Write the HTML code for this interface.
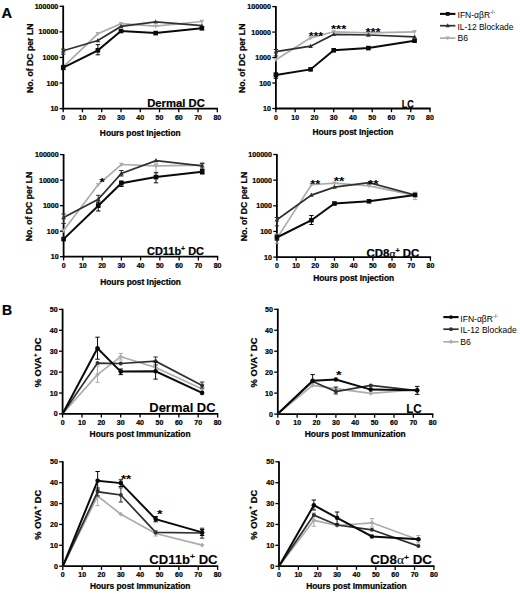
<!DOCTYPE html>
<html><head><meta charset="utf-8"><style>
html,body{margin:0;padding:0;background:#fff;}
svg{display:block;font-family:"Liberation Sans", sans-serif;}
text[font-weight="bold"]{stroke:#000;stroke-width:0.22px;}
</style></head><body>
<svg width="520" height="594" viewBox="0 0 520 594">
<rect width="520" height="594" fill="#fff"/>
<line x1="63.20" y1="5.70" x2="63.20" y2="109.50" stroke="#000" stroke-width="1.8" stroke-linecap="butt"/>
<line x1="62.30" y1="108.60" x2="218.00" y2="108.60" stroke="#000" stroke-width="1.8" stroke-linecap="butt"/>
<line x1="63.20" y1="108.60" x2="63.20" y2="112.30" stroke="#000" stroke-width="1.3" stroke-linecap="butt"/>
<text x="63.20" y="119.70" font-size="7" font-weight="bold" text-anchor="middle" fill="#000" >0</text>
<line x1="82.46" y1="108.60" x2="82.46" y2="112.30" stroke="#000" stroke-width="1.3" stroke-linecap="butt"/>
<text x="82.46" y="119.70" font-size="7" font-weight="bold" text-anchor="middle" fill="#000" >10</text>
<line x1="101.73" y1="108.60" x2="101.73" y2="112.30" stroke="#000" stroke-width="1.3" stroke-linecap="butt"/>
<text x="101.73" y="119.70" font-size="7" font-weight="bold" text-anchor="middle" fill="#000" >20</text>
<line x1="120.99" y1="108.60" x2="120.99" y2="112.30" stroke="#000" stroke-width="1.3" stroke-linecap="butt"/>
<text x="120.99" y="119.70" font-size="7" font-weight="bold" text-anchor="middle" fill="#000" >30</text>
<line x1="140.25" y1="108.60" x2="140.25" y2="112.30" stroke="#000" stroke-width="1.3" stroke-linecap="butt"/>
<text x="140.25" y="119.70" font-size="7" font-weight="bold" text-anchor="middle" fill="#000" >40</text>
<line x1="159.51" y1="108.60" x2="159.51" y2="112.30" stroke="#000" stroke-width="1.3" stroke-linecap="butt"/>
<text x="159.51" y="119.70" font-size="7" font-weight="bold" text-anchor="middle" fill="#000" >50</text>
<line x1="178.78" y1="108.60" x2="178.78" y2="112.30" stroke="#000" stroke-width="1.3" stroke-linecap="butt"/>
<text x="178.78" y="119.70" font-size="7" font-weight="bold" text-anchor="middle" fill="#000" >60</text>
<line x1="198.04" y1="108.60" x2="198.04" y2="112.30" stroke="#000" stroke-width="1.3" stroke-linecap="butt"/>
<text x="198.04" y="119.70" font-size="7" font-weight="bold" text-anchor="middle" fill="#000" >70</text>
<line x1="217.30" y1="108.60" x2="217.30" y2="112.30" stroke="#000" stroke-width="1.3" stroke-linecap="butt"/>
<text x="217.30" y="119.70" font-size="7" font-weight="bold" text-anchor="middle" fill="#000" >80</text>
<line x1="59.60" y1="6.30" x2="63.20" y2="6.30" stroke="#000" stroke-width="1.3" stroke-linecap="butt"/>
<text x="58.30" y="8.80" font-size="7.1" font-weight="bold" text-anchor="end" fill="#000" >100000</text>
<line x1="59.60" y1="31.88" x2="63.20" y2="31.88" stroke="#000" stroke-width="1.3" stroke-linecap="butt"/>
<text x="58.30" y="34.38" font-size="7.1" font-weight="bold" text-anchor="end" fill="#000" >10000</text>
<line x1="59.60" y1="57.45" x2="63.20" y2="57.45" stroke="#000" stroke-width="1.3" stroke-linecap="butt"/>
<text x="58.30" y="59.95" font-size="7.1" font-weight="bold" text-anchor="end" fill="#000" >1000</text>
<line x1="59.60" y1="83.02" x2="63.20" y2="83.02" stroke="#000" stroke-width="1.3" stroke-linecap="butt"/>
<text x="58.30" y="85.52" font-size="7.1" font-weight="bold" text-anchor="end" fill="#000" >100</text>
<line x1="59.60" y1="108.60" x2="63.20" y2="108.60" stroke="#000" stroke-width="1.3" stroke-linecap="butt"/>
<text x="58.30" y="111.10" font-size="7.1" font-weight="bold" text-anchor="end" fill="#000" >10</text>
<text x="140.25" y="135.80" font-size="8.4" font-weight="bold" text-anchor="middle" fill="#000" textLength="80.80" lengthAdjust="spacingAndGlyphs" >Hours post Injection</text>
<g transform="translate(33.00,57.45) rotate(-90)">
<text x="-0.8" y="0" font-size="8.7" font-weight="bold" text-anchor="middle" fill="#000">No. of DC per LN</text>
</g>
<polyline points="63.20,66.90 97.87,33.80 120.99,23.60 155.66,26.20 201.89,21.50" fill="none" stroke="#acacac" stroke-width="1.7" stroke-linejoin="miter" stroke-miterlimit="3"/>
<polygon points="63.20,69.40 65.50,65.20 60.90,65.20" fill="#acacac"/>
<polygon points="97.87,36.30 100.17,32.10 95.57,32.10" fill="#acacac"/>
<polygon points="120.99,26.10 123.29,21.90 118.69,21.90" fill="#acacac"/>
<polygon points="155.66,28.70 157.96,24.50 153.36,24.50" fill="#acacac"/>
<polygon points="201.89,24.00 204.19,19.80 199.59,19.80" fill="#acacac"/>
<line x1="63.20" y1="49.10" x2="63.20" y2="54.10" stroke="#303030" stroke-width="1.0" stroke-linecap="butt"/>
<line x1="61.00" y1="49.10" x2="65.40" y2="49.10" stroke="#303030" stroke-width="1.0" stroke-linecap="butt"/>
<line x1="61.00" y1="54.10" x2="65.40" y2="54.10" stroke="#303030" stroke-width="1.0" stroke-linecap="butt"/>
<polyline points="63.20,50.80 97.87,40.50 120.99,26.40 155.66,21.90 201.89,25.70" fill="none" stroke="#303030" stroke-width="1.7" stroke-linejoin="miter" stroke-miterlimit="3"/>
<polygon points="63.20,48.30 65.50,52.50 60.90,52.50" fill="#303030"/>
<polygon points="97.87,38.00 100.17,42.20 95.57,42.20" fill="#303030"/>
<polygon points="120.99,23.90 123.29,28.10 118.69,28.10" fill="#303030"/>
<polygon points="155.66,19.40 157.96,23.60 153.36,23.60" fill="#303030"/>
<polygon points="201.89,23.20 204.19,27.40 199.59,27.40" fill="#303030"/>
<line x1="97.87" y1="44.60" x2="97.87" y2="54.80" stroke="#0a0a0a" stroke-width="1.0" stroke-linecap="butt"/>
<line x1="95.67" y1="44.60" x2="100.07" y2="44.60" stroke="#0a0a0a" stroke-width="1.0" stroke-linecap="butt"/>
<line x1="95.67" y1="54.80" x2="100.07" y2="54.80" stroke="#0a0a0a" stroke-width="1.0" stroke-linecap="butt"/>
<line x1="63.20" y1="65.40" x2="63.20" y2="69.60" stroke="#0a0a0a" stroke-width="1.0" stroke-linecap="butt"/>
<line x1="61.00" y1="65.40" x2="65.40" y2="65.40" stroke="#0a0a0a" stroke-width="1.0" stroke-linecap="butt"/>
<line x1="61.00" y1="69.60" x2="65.40" y2="69.60" stroke="#0a0a0a" stroke-width="1.0" stroke-linecap="butt"/>
<polyline points="63.20,67.70 97.87,50.30 120.99,31.00 155.66,33.10 201.89,28.30" fill="none" stroke="#0a0a0a" stroke-width="2.0" stroke-linejoin="miter" stroke-miterlimit="3"/>
<rect x="60.90" y="65.40" width="4.60" height="4.60" fill="#0a0a0a"/>
<rect x="95.57" y="48.00" width="4.60" height="4.60" fill="#0a0a0a"/>
<rect x="118.69" y="28.70" width="4.60" height="4.60" fill="#0a0a0a"/>
<rect x="153.36" y="30.80" width="4.60" height="4.60" fill="#0a0a0a"/>
<rect x="199.59" y="26.00" width="4.60" height="4.60" fill="#0a0a0a"/>
<line x1="275.90" y1="6.00" x2="275.90" y2="109.40" stroke="#000" stroke-width="1.8" stroke-linecap="butt"/>
<line x1="275.00" y1="108.50" x2="430.70" y2="108.50" stroke="#000" stroke-width="1.8" stroke-linecap="butt"/>
<line x1="275.90" y1="108.50" x2="275.90" y2="112.20" stroke="#000" stroke-width="1.3" stroke-linecap="butt"/>
<text x="275.90" y="119.50" font-size="7" font-weight="bold" text-anchor="middle" fill="#000" >0</text>
<line x1="295.16" y1="108.50" x2="295.16" y2="112.20" stroke="#000" stroke-width="1.3" stroke-linecap="butt"/>
<text x="295.16" y="119.50" font-size="7" font-weight="bold" text-anchor="middle" fill="#000" >10</text>
<line x1="314.42" y1="108.50" x2="314.42" y2="112.20" stroke="#000" stroke-width="1.3" stroke-linecap="butt"/>
<text x="314.42" y="119.50" font-size="7" font-weight="bold" text-anchor="middle" fill="#000" >20</text>
<line x1="333.69" y1="108.50" x2="333.69" y2="112.20" stroke="#000" stroke-width="1.3" stroke-linecap="butt"/>
<text x="333.69" y="119.50" font-size="7" font-weight="bold" text-anchor="middle" fill="#000" >30</text>
<line x1="352.95" y1="108.50" x2="352.95" y2="112.20" stroke="#000" stroke-width="1.3" stroke-linecap="butt"/>
<text x="352.95" y="119.50" font-size="7" font-weight="bold" text-anchor="middle" fill="#000" >40</text>
<line x1="372.21" y1="108.50" x2="372.21" y2="112.20" stroke="#000" stroke-width="1.3" stroke-linecap="butt"/>
<text x="372.21" y="119.50" font-size="7" font-weight="bold" text-anchor="middle" fill="#000" >50</text>
<line x1="391.48" y1="108.50" x2="391.48" y2="112.20" stroke="#000" stroke-width="1.3" stroke-linecap="butt"/>
<text x="391.48" y="119.50" font-size="7" font-weight="bold" text-anchor="middle" fill="#000" >60</text>
<line x1="410.74" y1="108.50" x2="410.74" y2="112.20" stroke="#000" stroke-width="1.3" stroke-linecap="butt"/>
<text x="410.74" y="119.50" font-size="7" font-weight="bold" text-anchor="middle" fill="#000" >70</text>
<line x1="430.00" y1="108.50" x2="430.00" y2="112.20" stroke="#000" stroke-width="1.3" stroke-linecap="butt"/>
<text x="430.00" y="119.50" font-size="7" font-weight="bold" text-anchor="middle" fill="#000" >80</text>
<line x1="272.30" y1="6.60" x2="275.90" y2="6.60" stroke="#000" stroke-width="1.3" stroke-linecap="butt"/>
<text x="271.00" y="9.10" font-size="7.1" font-weight="bold" text-anchor="end" fill="#000" >100000</text>
<line x1="272.30" y1="32.08" x2="275.90" y2="32.08" stroke="#000" stroke-width="1.3" stroke-linecap="butt"/>
<text x="271.00" y="34.58" font-size="7.1" font-weight="bold" text-anchor="end" fill="#000" >10000</text>
<line x1="272.30" y1="57.55" x2="275.90" y2="57.55" stroke="#000" stroke-width="1.3" stroke-linecap="butt"/>
<text x="271.00" y="60.05" font-size="7.1" font-weight="bold" text-anchor="end" fill="#000" >1000</text>
<line x1="272.30" y1="83.03" x2="275.90" y2="83.03" stroke="#000" stroke-width="1.3" stroke-linecap="butt"/>
<text x="271.00" y="85.53" font-size="7.1" font-weight="bold" text-anchor="end" fill="#000" >100</text>
<line x1="272.30" y1="108.50" x2="275.90" y2="108.50" stroke="#000" stroke-width="1.3" stroke-linecap="butt"/>
<text x="271.00" y="111.00" font-size="7.1" font-weight="bold" text-anchor="end" fill="#000" >10</text>
<text x="352.95" y="134.70" font-size="8.4" font-weight="bold" text-anchor="middle" fill="#000" textLength="81.00" lengthAdjust="spacingAndGlyphs" >Hours post Injection</text>
<g transform="translate(244.60,57.55) rotate(-90)">
<text x="-0.8" y="0" font-size="8.7" font-weight="bold" text-anchor="middle" fill="#000">No. of DC per LN</text>
</g>
<polyline points="275.90,59.70 310.57,37.90 333.69,31.80 368.36,32.80 414.59,31.80" fill="none" stroke="#acacac" stroke-width="1.7" stroke-linejoin="miter" stroke-miterlimit="3"/>
<polygon points="275.90,62.20 278.20,58.00 273.60,58.00" fill="#acacac"/>
<polygon points="310.57,40.40 312.87,36.20 308.27,36.20" fill="#acacac"/>
<polygon points="333.69,34.30 335.99,30.10 331.39,30.10" fill="#acacac"/>
<polygon points="368.36,35.30 370.66,31.10 366.06,31.10" fill="#acacac"/>
<polygon points="414.59,34.30 416.89,30.10 412.29,30.10" fill="#acacac"/>
<line x1="275.90" y1="49.50" x2="275.90" y2="55.90" stroke="#303030" stroke-width="1.0" stroke-linecap="butt"/>
<line x1="273.70" y1="49.50" x2="278.10" y2="49.50" stroke="#303030" stroke-width="1.0" stroke-linecap="butt"/>
<line x1="273.70" y1="55.90" x2="278.10" y2="55.90" stroke="#303030" stroke-width="1.0" stroke-linecap="butt"/>
<polyline points="275.90,51.70 310.57,46.20 333.69,34.40 368.36,35.00 414.59,36.90" fill="none" stroke="#303030" stroke-width="1.7" stroke-linejoin="miter" stroke-miterlimit="3"/>
<polygon points="275.90,49.20 278.20,53.40 273.60,53.40" fill="#303030"/>
<polygon points="310.57,43.70 312.87,47.90 308.27,47.90" fill="#303030"/>
<polygon points="333.69,31.90 335.99,36.10 331.39,36.10" fill="#303030"/>
<polygon points="368.36,32.50 370.66,36.70 366.06,36.70" fill="#303030"/>
<polygon points="414.59,34.40 416.89,38.60 412.29,38.60" fill="#303030"/>
<line x1="275.90" y1="72.80" x2="275.90" y2="78.30" stroke="#0a0a0a" stroke-width="1.0" stroke-linecap="butt"/>
<line x1="273.70" y1="72.80" x2="278.10" y2="72.80" stroke="#0a0a0a" stroke-width="1.0" stroke-linecap="butt"/>
<line x1="273.70" y1="78.30" x2="278.10" y2="78.30" stroke="#0a0a0a" stroke-width="1.0" stroke-linecap="butt"/>
<polyline points="275.90,75.10 310.57,69.40 333.69,50.30 368.36,48.10 414.59,40.70" fill="none" stroke="#0a0a0a" stroke-width="2.0" stroke-linejoin="miter" stroke-miterlimit="3"/>
<rect x="273.60" y="72.80" width="4.60" height="4.60" fill="#0a0a0a"/>
<rect x="308.27" y="67.10" width="4.60" height="4.60" fill="#0a0a0a"/>
<rect x="331.39" y="48.00" width="4.60" height="4.60" fill="#0a0a0a"/>
<rect x="366.06" y="45.80" width="4.60" height="4.60" fill="#0a0a0a"/>
<rect x="412.29" y="38.40" width="4.60" height="4.60" fill="#0a0a0a"/>
<line x1="63.60" y1="154.00" x2="63.60" y2="257.60" stroke="#000" stroke-width="1.8" stroke-linecap="butt"/>
<line x1="62.70" y1="256.70" x2="218.30" y2="256.70" stroke="#000" stroke-width="1.8" stroke-linecap="butt"/>
<line x1="63.60" y1="256.70" x2="63.60" y2="260.40" stroke="#000" stroke-width="1.3" stroke-linecap="butt"/>
<text x="63.60" y="268.10" font-size="7" font-weight="bold" text-anchor="middle" fill="#000" >0</text>
<line x1="82.85" y1="256.70" x2="82.85" y2="260.40" stroke="#000" stroke-width="1.3" stroke-linecap="butt"/>
<text x="82.85" y="268.10" font-size="7" font-weight="bold" text-anchor="middle" fill="#000" >10</text>
<line x1="102.10" y1="256.70" x2="102.10" y2="260.40" stroke="#000" stroke-width="1.3" stroke-linecap="butt"/>
<text x="102.10" y="268.10" font-size="7" font-weight="bold" text-anchor="middle" fill="#000" >20</text>
<line x1="121.35" y1="256.70" x2="121.35" y2="260.40" stroke="#000" stroke-width="1.3" stroke-linecap="butt"/>
<text x="121.35" y="268.10" font-size="7" font-weight="bold" text-anchor="middle" fill="#000" >30</text>
<line x1="140.60" y1="256.70" x2="140.60" y2="260.40" stroke="#000" stroke-width="1.3" stroke-linecap="butt"/>
<text x="140.60" y="268.10" font-size="7" font-weight="bold" text-anchor="middle" fill="#000" >40</text>
<line x1="159.85" y1="256.70" x2="159.85" y2="260.40" stroke="#000" stroke-width="1.3" stroke-linecap="butt"/>
<text x="159.85" y="268.10" font-size="7" font-weight="bold" text-anchor="middle" fill="#000" >50</text>
<line x1="179.10" y1="256.70" x2="179.10" y2="260.40" stroke="#000" stroke-width="1.3" stroke-linecap="butt"/>
<text x="179.10" y="268.10" font-size="7" font-weight="bold" text-anchor="middle" fill="#000" >60</text>
<line x1="198.35" y1="256.70" x2="198.35" y2="260.40" stroke="#000" stroke-width="1.3" stroke-linecap="butt"/>
<text x="198.35" y="268.10" font-size="7" font-weight="bold" text-anchor="middle" fill="#000" >70</text>
<line x1="217.60" y1="256.70" x2="217.60" y2="260.40" stroke="#000" stroke-width="1.3" stroke-linecap="butt"/>
<text x="217.60" y="268.10" font-size="7" font-weight="bold" text-anchor="middle" fill="#000" >80</text>
<line x1="60.00" y1="154.60" x2="63.60" y2="154.60" stroke="#000" stroke-width="1.3" stroke-linecap="butt"/>
<text x="58.70" y="157.10" font-size="7.1" font-weight="bold" text-anchor="end" fill="#000" >100000</text>
<line x1="60.00" y1="180.12" x2="63.60" y2="180.12" stroke="#000" stroke-width="1.3" stroke-linecap="butt"/>
<text x="58.70" y="182.62" font-size="7.1" font-weight="bold" text-anchor="end" fill="#000" >10000</text>
<line x1="60.00" y1="205.65" x2="63.60" y2="205.65" stroke="#000" stroke-width="1.3" stroke-linecap="butt"/>
<text x="58.70" y="208.15" font-size="7.1" font-weight="bold" text-anchor="end" fill="#000" >1000</text>
<line x1="60.00" y1="231.17" x2="63.60" y2="231.17" stroke="#000" stroke-width="1.3" stroke-linecap="butt"/>
<text x="58.70" y="233.67" font-size="7.1" font-weight="bold" text-anchor="end" fill="#000" >100</text>
<line x1="60.00" y1="256.70" x2="63.60" y2="256.70" stroke="#000" stroke-width="1.3" stroke-linecap="butt"/>
<text x="58.70" y="259.20" font-size="7.1" font-weight="bold" text-anchor="end" fill="#000" >10</text>
<text x="140.60" y="284.60" font-size="8.4" font-weight="bold" text-anchor="middle" fill="#000" textLength="80.80" lengthAdjust="spacingAndGlyphs" >Hours post Injection</text>
<g transform="translate(31.70,205.65) rotate(-90)">
<text x="-0.8" y="0" font-size="8.7" font-weight="bold" text-anchor="middle" fill="#000">No. of DC per LN</text>
</g>
<line x1="156.00" y1="163.80" x2="156.00" y2="172.20" stroke="#acacac" stroke-width="1.0" stroke-linecap="butt"/>
<line x1="153.80" y1="163.80" x2="158.20" y2="163.80" stroke="#acacac" stroke-width="1.0" stroke-linecap="butt"/>
<line x1="153.80" y1="172.20" x2="158.20" y2="172.20" stroke="#acacac" stroke-width="1.0" stroke-linecap="butt"/>
<line x1="202.20" y1="162.50" x2="202.20" y2="168.00" stroke="#acacac" stroke-width="1.0" stroke-linecap="butt"/>
<line x1="200.00" y1="162.50" x2="204.40" y2="162.50" stroke="#acacac" stroke-width="1.0" stroke-linecap="butt"/>
<line x1="200.00" y1="168.00" x2="204.40" y2="168.00" stroke="#acacac" stroke-width="1.0" stroke-linecap="butt"/>
<polyline points="63.60,230.50 98.25,184.60 121.35,164.50 156.00,165.90 202.20,165.20" fill="none" stroke="#acacac" stroke-width="1.7" stroke-linejoin="miter" stroke-miterlimit="3"/>
<polygon points="63.60,233.00 65.90,228.80 61.30,228.80" fill="#acacac"/>
<polygon points="98.25,187.10 100.55,182.90 95.95,182.90" fill="#acacac"/>
<polygon points="121.35,167.00 123.65,162.80 119.05,162.80" fill="#acacac"/>
<polygon points="156.00,168.40 158.30,164.20 153.70,164.20" fill="#acacac"/>
<polygon points="202.20,167.70 204.50,163.50 199.90,163.50" fill="#acacac"/>
<line x1="63.60" y1="214.00" x2="63.60" y2="223.50" stroke="#303030" stroke-width="1.0" stroke-linecap="butt"/>
<line x1="61.40" y1="214.00" x2="65.80" y2="214.00" stroke="#303030" stroke-width="1.0" stroke-linecap="butt"/>
<line x1="61.40" y1="223.50" x2="65.80" y2="223.50" stroke="#303030" stroke-width="1.0" stroke-linecap="butt"/>
<line x1="98.25" y1="195.30" x2="98.25" y2="203.00" stroke="#303030" stroke-width="1.0" stroke-linecap="butt"/>
<line x1="96.05" y1="195.30" x2="100.45" y2="195.30" stroke="#303030" stroke-width="1.0" stroke-linecap="butt"/>
<line x1="96.05" y1="203.00" x2="100.45" y2="203.00" stroke="#303030" stroke-width="1.0" stroke-linecap="butt"/>
<line x1="121.35" y1="170.50" x2="121.35" y2="176.00" stroke="#303030" stroke-width="1.0" stroke-linecap="butt"/>
<line x1="119.15" y1="170.50" x2="123.55" y2="170.50" stroke="#303030" stroke-width="1.0" stroke-linecap="butt"/>
<line x1="119.15" y1="176.00" x2="123.55" y2="176.00" stroke="#303030" stroke-width="1.0" stroke-linecap="butt"/>
<line x1="202.20" y1="163.50" x2="202.20" y2="169.00" stroke="#303030" stroke-width="1.0" stroke-linecap="butt"/>
<line x1="200.00" y1="163.50" x2="204.40" y2="163.50" stroke="#303030" stroke-width="1.0" stroke-linecap="butt"/>
<line x1="200.00" y1="169.00" x2="204.40" y2="169.00" stroke="#303030" stroke-width="1.0" stroke-linecap="butt"/>
<polyline points="63.60,217.50 98.25,199.30 121.35,173.50 156.00,160.60 202.20,165.90" fill="none" stroke="#303030" stroke-width="1.7" stroke-linejoin="miter" stroke-miterlimit="3"/>
<polygon points="63.60,215.00 65.90,219.20 61.30,219.20" fill="#303030"/>
<polygon points="98.25,196.80 100.55,201.00 95.95,201.00" fill="#303030"/>
<polygon points="121.35,171.00 123.65,175.20 119.05,175.20" fill="#303030"/>
<polygon points="156.00,158.10 158.30,162.30 153.70,162.30" fill="#303030"/>
<polygon points="202.20,163.40 204.50,167.60 199.90,167.60" fill="#303030"/>
<line x1="98.25" y1="202.00" x2="98.25" y2="211.00" stroke="#0a0a0a" stroke-width="1.0" stroke-linecap="butt"/>
<line x1="96.05" y1="202.00" x2="100.45" y2="202.00" stroke="#0a0a0a" stroke-width="1.0" stroke-linecap="butt"/>
<line x1="96.05" y1="211.00" x2="100.45" y2="211.00" stroke="#0a0a0a" stroke-width="1.0" stroke-linecap="butt"/>
<line x1="121.35" y1="181.00" x2="121.35" y2="186.50" stroke="#0a0a0a" stroke-width="1.0" stroke-linecap="butt"/>
<line x1="119.15" y1="181.00" x2="123.55" y2="181.00" stroke="#0a0a0a" stroke-width="1.0" stroke-linecap="butt"/>
<line x1="119.15" y1="186.50" x2="123.55" y2="186.50" stroke="#0a0a0a" stroke-width="1.0" stroke-linecap="butt"/>
<line x1="156.00" y1="172.80" x2="156.00" y2="182.80" stroke="#0a0a0a" stroke-width="1.0" stroke-linecap="butt"/>
<line x1="153.80" y1="172.80" x2="158.20" y2="172.80" stroke="#0a0a0a" stroke-width="1.0" stroke-linecap="butt"/>
<line x1="153.80" y1="182.80" x2="158.20" y2="182.80" stroke="#0a0a0a" stroke-width="1.0" stroke-linecap="butt"/>
<line x1="202.20" y1="169.50" x2="202.20" y2="174.00" stroke="#0a0a0a" stroke-width="1.0" stroke-linecap="butt"/>
<line x1="200.00" y1="169.50" x2="204.40" y2="169.50" stroke="#0a0a0a" stroke-width="1.0" stroke-linecap="butt"/>
<line x1="200.00" y1="174.00" x2="204.40" y2="174.00" stroke="#0a0a0a" stroke-width="1.0" stroke-linecap="butt"/>
<polyline points="63.60,239.10 98.25,205.70 121.35,183.20 156.00,177.10 202.20,171.80" fill="none" stroke="#0a0a0a" stroke-width="2.0" stroke-linejoin="miter" stroke-miterlimit="3"/>
<rect x="61.30" y="236.80" width="4.60" height="4.60" fill="#0a0a0a"/>
<rect x="95.95" y="203.40" width="4.60" height="4.60" fill="#0a0a0a"/>
<rect x="119.05" y="180.90" width="4.60" height="4.60" fill="#0a0a0a"/>
<rect x="153.70" y="174.80" width="4.60" height="4.60" fill="#0a0a0a"/>
<rect x="199.90" y="169.50" width="4.60" height="4.60" fill="#0a0a0a"/>
<line x1="276.90" y1="153.90" x2="276.90" y2="258.00" stroke="#000" stroke-width="1.8" stroke-linecap="butt"/>
<line x1="276.00" y1="257.10" x2="431.10" y2="257.10" stroke="#000" stroke-width="1.8" stroke-linecap="butt"/>
<line x1="276.90" y1="257.10" x2="276.90" y2="260.80" stroke="#000" stroke-width="1.3" stroke-linecap="butt"/>
<text x="276.90" y="268.10" font-size="7" font-weight="bold" text-anchor="middle" fill="#000" >0</text>
<line x1="296.09" y1="257.10" x2="296.09" y2="260.80" stroke="#000" stroke-width="1.3" stroke-linecap="butt"/>
<text x="296.09" y="268.10" font-size="7" font-weight="bold" text-anchor="middle" fill="#000" >10</text>
<line x1="315.27" y1="257.10" x2="315.27" y2="260.80" stroke="#000" stroke-width="1.3" stroke-linecap="butt"/>
<text x="315.27" y="268.10" font-size="7" font-weight="bold" text-anchor="middle" fill="#000" >20</text>
<line x1="334.46" y1="257.10" x2="334.46" y2="260.80" stroke="#000" stroke-width="1.3" stroke-linecap="butt"/>
<text x="334.46" y="268.10" font-size="7" font-weight="bold" text-anchor="middle" fill="#000" >30</text>
<line x1="353.65" y1="257.10" x2="353.65" y2="260.80" stroke="#000" stroke-width="1.3" stroke-linecap="butt"/>
<text x="353.65" y="268.10" font-size="7" font-weight="bold" text-anchor="middle" fill="#000" >40</text>
<line x1="372.84" y1="257.10" x2="372.84" y2="260.80" stroke="#000" stroke-width="1.3" stroke-linecap="butt"/>
<text x="372.84" y="268.10" font-size="7" font-weight="bold" text-anchor="middle" fill="#000" >50</text>
<line x1="392.02" y1="257.10" x2="392.02" y2="260.80" stroke="#000" stroke-width="1.3" stroke-linecap="butt"/>
<text x="392.02" y="268.10" font-size="7" font-weight="bold" text-anchor="middle" fill="#000" >60</text>
<line x1="411.21" y1="257.10" x2="411.21" y2="260.80" stroke="#000" stroke-width="1.3" stroke-linecap="butt"/>
<text x="411.21" y="268.10" font-size="7" font-weight="bold" text-anchor="middle" fill="#000" >70</text>
<line x1="430.40" y1="257.10" x2="430.40" y2="260.80" stroke="#000" stroke-width="1.3" stroke-linecap="butt"/>
<text x="430.40" y="268.10" font-size="7" font-weight="bold" text-anchor="middle" fill="#000" >80</text>
<line x1="273.30" y1="154.50" x2="276.90" y2="154.50" stroke="#000" stroke-width="1.3" stroke-linecap="butt"/>
<text x="272.00" y="157.00" font-size="7.1" font-weight="bold" text-anchor="end" fill="#000" >100000</text>
<line x1="273.30" y1="180.15" x2="276.90" y2="180.15" stroke="#000" stroke-width="1.3" stroke-linecap="butt"/>
<text x="272.00" y="182.65" font-size="7.1" font-weight="bold" text-anchor="end" fill="#000" >10000</text>
<line x1="273.30" y1="205.80" x2="276.90" y2="205.80" stroke="#000" stroke-width="1.3" stroke-linecap="butt"/>
<text x="272.00" y="208.30" font-size="7.1" font-weight="bold" text-anchor="end" fill="#000" >1000</text>
<line x1="273.30" y1="231.45" x2="276.90" y2="231.45" stroke="#000" stroke-width="1.3" stroke-linecap="butt"/>
<text x="272.00" y="233.95" font-size="7.1" font-weight="bold" text-anchor="end" fill="#000" >100</text>
<line x1="273.30" y1="257.10" x2="276.90" y2="257.10" stroke="#000" stroke-width="1.3" stroke-linecap="butt"/>
<text x="272.00" y="259.60" font-size="7.1" font-weight="bold" text-anchor="end" fill="#000" >10</text>
<text x="353.65" y="281.40" font-size="8.4" font-weight="bold" text-anchor="middle" fill="#000" textLength="81.00" lengthAdjust="spacingAndGlyphs" >Hours post Injection</text>
<g transform="translate(247.30,205.80) rotate(-90)">
<text x="-0.8" y="0" font-size="8.7" font-weight="bold" text-anchor="middle" fill="#000">No. of DC per LN</text>
</g>
<line x1="415.05" y1="192.20" x2="415.05" y2="199.60" stroke="#acacac" stroke-width="1.0" stroke-linecap="butt"/>
<line x1="412.85" y1="192.20" x2="417.25" y2="192.20" stroke="#acacac" stroke-width="1.0" stroke-linecap="butt"/>
<line x1="412.85" y1="199.60" x2="417.25" y2="199.60" stroke="#acacac" stroke-width="1.0" stroke-linecap="butt"/>
<line x1="276.90" y1="234.00" x2="276.90" y2="243.30" stroke="#acacac" stroke-width="1.0" stroke-linecap="butt"/>
<line x1="274.70" y1="234.00" x2="279.10" y2="234.00" stroke="#acacac" stroke-width="1.0" stroke-linecap="butt"/>
<line x1="274.70" y1="243.30" x2="279.10" y2="243.30" stroke="#acacac" stroke-width="1.0" stroke-linecap="butt"/>
<polyline points="276.90,238.40 311.44,184.70 334.46,183.20 369.00,185.90 415.05,195.40" fill="none" stroke="#acacac" stroke-width="1.7" stroke-linejoin="miter" stroke-miterlimit="3"/>
<polygon points="276.90,240.90 279.20,236.70 274.60,236.70" fill="#acacac"/>
<polygon points="311.44,187.20 313.74,183.00 309.14,183.00" fill="#acacac"/>
<polygon points="334.46,185.70 336.76,181.50 332.16,181.50" fill="#acacac"/>
<polygon points="369.00,188.40 371.30,184.20 366.70,184.20" fill="#acacac"/>
<polygon points="415.05,197.90 417.35,193.70 412.75,193.70" fill="#acacac"/>
<line x1="276.90" y1="217.50" x2="276.90" y2="225.80" stroke="#303030" stroke-width="1.0" stroke-linecap="butt"/>
<line x1="274.70" y1="217.50" x2="279.10" y2="217.50" stroke="#303030" stroke-width="1.0" stroke-linecap="butt"/>
<line x1="274.70" y1="225.80" x2="279.10" y2="225.80" stroke="#303030" stroke-width="1.0" stroke-linecap="butt"/>
<polyline points="276.90,219.80 311.44,195.10 334.46,187.10 369.00,182.70 415.05,195.00" fill="none" stroke="#303030" stroke-width="1.7" stroke-linejoin="miter" stroke-miterlimit="3"/>
<polygon points="276.90,217.30 279.20,221.50 274.60,221.50" fill="#303030"/>
<polygon points="311.44,192.60 313.74,196.80 309.14,196.80" fill="#303030"/>
<polygon points="334.46,184.60 336.76,188.80 332.16,188.80" fill="#303030"/>
<polygon points="369.00,180.20 371.30,184.40 366.70,184.40" fill="#303030"/>
<polygon points="415.05,192.50 417.35,196.70 412.75,196.70" fill="#303030"/>
<line x1="311.44" y1="215.50" x2="311.44" y2="224.50" stroke="#0a0a0a" stroke-width="1.0" stroke-linecap="butt"/>
<line x1="309.24" y1="215.50" x2="313.64" y2="215.50" stroke="#0a0a0a" stroke-width="1.0" stroke-linecap="butt"/>
<line x1="309.24" y1="224.50" x2="313.64" y2="224.50" stroke="#0a0a0a" stroke-width="1.0" stroke-linecap="butt"/>
<line x1="276.90" y1="235.00" x2="276.90" y2="240.20" stroke="#0a0a0a" stroke-width="1.0" stroke-linecap="butt"/>
<line x1="274.70" y1="235.00" x2="279.10" y2="235.00" stroke="#0a0a0a" stroke-width="1.0" stroke-linecap="butt"/>
<line x1="274.70" y1="240.20" x2="279.10" y2="240.20" stroke="#0a0a0a" stroke-width="1.0" stroke-linecap="butt"/>
<polyline points="276.90,237.50 311.44,220.20 334.46,203.50 369.00,201.30 415.05,195.00" fill="none" stroke="#0a0a0a" stroke-width="2.0" stroke-linejoin="miter" stroke-miterlimit="3"/>
<rect x="274.60" y="235.20" width="4.60" height="4.60" fill="#0a0a0a"/>
<rect x="309.14" y="217.90" width="4.60" height="4.60" fill="#0a0a0a"/>
<rect x="332.16" y="201.20" width="4.60" height="4.60" fill="#0a0a0a"/>
<rect x="366.70" y="199.00" width="4.60" height="4.60" fill="#0a0a0a"/>
<rect x="412.75" y="192.70" width="4.60" height="4.60" fill="#0a0a0a"/>
<line x1="62.60" y1="308.80" x2="62.60" y2="414.80" stroke="#000" stroke-width="1.8" stroke-linecap="butt"/>
<line x1="61.70" y1="413.90" x2="218.30" y2="413.90" stroke="#000" stroke-width="1.8" stroke-linecap="butt"/>
<line x1="62.60" y1="413.90" x2="62.60" y2="417.60" stroke="#000" stroke-width="1.3" stroke-linecap="butt"/>
<text x="62.60" y="425.00" font-size="7" font-weight="bold" text-anchor="middle" fill="#000" >0</text>
<line x1="81.97" y1="413.90" x2="81.97" y2="417.60" stroke="#000" stroke-width="1.3" stroke-linecap="butt"/>
<text x="81.97" y="425.00" font-size="7" font-weight="bold" text-anchor="middle" fill="#000" >10</text>
<line x1="101.35" y1="413.90" x2="101.35" y2="417.60" stroke="#000" stroke-width="1.3" stroke-linecap="butt"/>
<text x="101.35" y="425.00" font-size="7" font-weight="bold" text-anchor="middle" fill="#000" >20</text>
<line x1="120.72" y1="413.90" x2="120.72" y2="417.60" stroke="#000" stroke-width="1.3" stroke-linecap="butt"/>
<text x="120.72" y="425.00" font-size="7" font-weight="bold" text-anchor="middle" fill="#000" >30</text>
<line x1="140.10" y1="413.90" x2="140.10" y2="417.60" stroke="#000" stroke-width="1.3" stroke-linecap="butt"/>
<text x="140.10" y="425.00" font-size="7" font-weight="bold" text-anchor="middle" fill="#000" >40</text>
<line x1="159.47" y1="413.90" x2="159.47" y2="417.60" stroke="#000" stroke-width="1.3" stroke-linecap="butt"/>
<text x="159.47" y="425.00" font-size="7" font-weight="bold" text-anchor="middle" fill="#000" >50</text>
<line x1="178.85" y1="413.90" x2="178.85" y2="417.60" stroke="#000" stroke-width="1.3" stroke-linecap="butt"/>
<text x="178.85" y="425.00" font-size="7" font-weight="bold" text-anchor="middle" fill="#000" >60</text>
<line x1="198.22" y1="413.90" x2="198.22" y2="417.60" stroke="#000" stroke-width="1.3" stroke-linecap="butt"/>
<text x="198.22" y="425.00" font-size="7" font-weight="bold" text-anchor="middle" fill="#000" >70</text>
<line x1="217.60" y1="413.90" x2="217.60" y2="417.60" stroke="#000" stroke-width="1.3" stroke-linecap="butt"/>
<text x="217.60" y="425.00" font-size="7" font-weight="bold" text-anchor="middle" fill="#000" >80</text>
<line x1="59.00" y1="309.40" x2="62.60" y2="309.40" stroke="#000" stroke-width="1.3" stroke-linecap="butt"/>
<text x="57.70" y="311.90" font-size="7.1" font-weight="bold" text-anchor="end" fill="#000" >50</text>
<line x1="59.00" y1="330.30" x2="62.60" y2="330.30" stroke="#000" stroke-width="1.3" stroke-linecap="butt"/>
<text x="57.70" y="332.80" font-size="7.1" font-weight="bold" text-anchor="end" fill="#000" >40</text>
<line x1="59.00" y1="351.20" x2="62.60" y2="351.20" stroke="#000" stroke-width="1.3" stroke-linecap="butt"/>
<text x="57.70" y="353.70" font-size="7.1" font-weight="bold" text-anchor="end" fill="#000" >30</text>
<line x1="59.00" y1="372.10" x2="62.60" y2="372.10" stroke="#000" stroke-width="1.3" stroke-linecap="butt"/>
<text x="57.70" y="374.60" font-size="7.1" font-weight="bold" text-anchor="end" fill="#000" >20</text>
<line x1="59.00" y1="393.00" x2="62.60" y2="393.00" stroke="#000" stroke-width="1.3" stroke-linecap="butt"/>
<text x="57.70" y="395.50" font-size="7.1" font-weight="bold" text-anchor="end" fill="#000" >10</text>
<line x1="59.00" y1="413.90" x2="62.60" y2="413.90" stroke="#000" stroke-width="1.3" stroke-linecap="butt"/>
<text x="57.70" y="416.40" font-size="7.1" font-weight="bold" text-anchor="end" fill="#000" >0</text>
<text x="140.10" y="437.10" font-size="8.4" font-weight="bold" text-anchor="middle" fill="#000" textLength="101.00" lengthAdjust="spacingAndGlyphs" >Hours post Immunization</text>
<g transform="translate(41.20,361.65) rotate(-90)">
<text x="-0.8" y="0" font-size="9.3" font-weight="bold" text-anchor="middle" fill="#000">% OVA<tspan font-size="6" dy="-4.6">+</tspan><tspan dy="4.6"> DC</tspan></text>
</g>
<line x1="97.47" y1="366.00" x2="97.47" y2="382.30" stroke="#acacac" stroke-width="1.0" stroke-linecap="butt"/>
<line x1="95.27" y1="366.00" x2="99.67" y2="366.00" stroke="#acacac" stroke-width="1.0" stroke-linecap="butt"/>
<line x1="95.27" y1="382.30" x2="99.67" y2="382.30" stroke="#acacac" stroke-width="1.0" stroke-linecap="butt"/>
<line x1="120.72" y1="353.40" x2="120.72" y2="360.00" stroke="#acacac" stroke-width="1.0" stroke-linecap="butt"/>
<line x1="118.52" y1="353.40" x2="122.92" y2="353.40" stroke="#acacac" stroke-width="1.0" stroke-linecap="butt"/>
<line x1="118.52" y1="360.00" x2="122.92" y2="360.00" stroke="#acacac" stroke-width="1.0" stroke-linecap="butt"/>
<polyline points="62.60,413.80 97.47,374.60 120.72,356.70 155.60,367.50 202.10,389.00" fill="none" stroke="#acacac" stroke-width="1.7" stroke-linejoin="miter" stroke-miterlimit="3"/>
<polygon points="97.47,372.20 99.88,374.60 97.47,377.00 95.07,374.60" fill="#acacac"/>
<polygon points="120.72,354.30 123.12,356.70 120.72,359.10 118.32,356.70" fill="#acacac"/>
<polygon points="155.60,365.10 158.00,367.50 155.60,369.90 153.20,367.50" fill="#acacac"/>
<polygon points="202.10,386.60 204.50,389.00 202.10,391.40 199.70,389.00" fill="#acacac"/>
<line x1="155.60" y1="357.00" x2="155.60" y2="365.00" stroke="#303030" stroke-width="1.0" stroke-linecap="butt"/>
<line x1="153.40" y1="357.00" x2="157.80" y2="357.00" stroke="#303030" stroke-width="1.0" stroke-linecap="butt"/>
<line x1="153.40" y1="365.00" x2="157.80" y2="365.00" stroke="#303030" stroke-width="1.0" stroke-linecap="butt"/>
<line x1="202.10" y1="382.00" x2="202.10" y2="388.00" stroke="#303030" stroke-width="1.0" stroke-linecap="butt"/>
<line x1="199.90" y1="382.00" x2="204.30" y2="382.00" stroke="#303030" stroke-width="1.0" stroke-linecap="butt"/>
<line x1="199.90" y1="388.00" x2="204.30" y2="388.00" stroke="#303030" stroke-width="1.0" stroke-linecap="butt"/>
<polyline points="62.60,413.80 97.47,363.10 120.72,363.50 155.60,361.20 202.10,385.50" fill="none" stroke="#303030" stroke-width="1.7" stroke-linejoin="miter" stroke-miterlimit="3"/>
<circle cx="97.47" cy="363.10" r="2.00" fill="#303030"/>
<circle cx="120.72" cy="363.50" r="2.00" fill="#303030"/>
<circle cx="155.60" cy="361.20" r="2.00" fill="#303030"/>
<circle cx="202.10" cy="385.50" r="2.00" fill="#303030"/>
<line x1="97.47" y1="337.20" x2="97.47" y2="359.20" stroke="#0a0a0a" stroke-width="1.0" stroke-linecap="butt"/>
<line x1="95.27" y1="337.20" x2="99.67" y2="337.20" stroke="#0a0a0a" stroke-width="1.0" stroke-linecap="butt"/>
<line x1="95.27" y1="359.20" x2="99.67" y2="359.20" stroke="#0a0a0a" stroke-width="1.0" stroke-linecap="butt"/>
<line x1="120.72" y1="369.00" x2="120.72" y2="374.60" stroke="#0a0a0a" stroke-width="1.0" stroke-linecap="butt"/>
<line x1="118.52" y1="369.00" x2="122.92" y2="369.00" stroke="#0a0a0a" stroke-width="1.0" stroke-linecap="butt"/>
<line x1="118.52" y1="374.60" x2="122.92" y2="374.60" stroke="#0a0a0a" stroke-width="1.0" stroke-linecap="butt"/>
<line x1="155.60" y1="362.20" x2="155.60" y2="379.10" stroke="#0a0a0a" stroke-width="1.0" stroke-linecap="butt"/>
<line x1="153.40" y1="362.20" x2="157.80" y2="362.20" stroke="#0a0a0a" stroke-width="1.0" stroke-linecap="butt"/>
<line x1="153.40" y1="379.10" x2="157.80" y2="379.10" stroke="#0a0a0a" stroke-width="1.0" stroke-linecap="butt"/>
<polyline points="62.60,413.80 97.47,348.20 120.72,371.60 155.60,371.30 202.10,392.90" fill="none" stroke="#0a0a0a" stroke-width="2.0" stroke-linejoin="miter" stroke-miterlimit="3"/>
<circle cx="97.47" cy="348.20" r="2.30" fill="#0a0a0a"/>
<circle cx="120.72" cy="371.60" r="2.30" fill="#0a0a0a"/>
<circle cx="155.60" cy="371.30" r="2.30" fill="#0a0a0a"/>
<circle cx="202.10" cy="392.90" r="2.30" fill="#0a0a0a"/>
<line x1="277.80" y1="308.70" x2="277.80" y2="415.00" stroke="#000" stroke-width="1.8" stroke-linecap="butt"/>
<line x1="276.90" y1="414.10" x2="433.40" y2="414.10" stroke="#000" stroke-width="1.8" stroke-linecap="butt"/>
<line x1="277.80" y1="414.10" x2="277.80" y2="417.80" stroke="#000" stroke-width="1.3" stroke-linecap="butt"/>
<text x="277.80" y="425.00" font-size="7" font-weight="bold" text-anchor="middle" fill="#000" >0</text>
<line x1="297.16" y1="414.10" x2="297.16" y2="417.80" stroke="#000" stroke-width="1.3" stroke-linecap="butt"/>
<text x="297.16" y="425.00" font-size="7" font-weight="bold" text-anchor="middle" fill="#000" >10</text>
<line x1="316.52" y1="414.10" x2="316.52" y2="417.80" stroke="#000" stroke-width="1.3" stroke-linecap="butt"/>
<text x="316.52" y="425.00" font-size="7" font-weight="bold" text-anchor="middle" fill="#000" >20</text>
<line x1="335.89" y1="414.10" x2="335.89" y2="417.80" stroke="#000" stroke-width="1.3" stroke-linecap="butt"/>
<text x="335.89" y="425.00" font-size="7" font-weight="bold" text-anchor="middle" fill="#000" >30</text>
<line x1="355.25" y1="414.10" x2="355.25" y2="417.80" stroke="#000" stroke-width="1.3" stroke-linecap="butt"/>
<text x="355.25" y="425.00" font-size="7" font-weight="bold" text-anchor="middle" fill="#000" >40</text>
<line x1="374.61" y1="414.10" x2="374.61" y2="417.80" stroke="#000" stroke-width="1.3" stroke-linecap="butt"/>
<text x="374.61" y="425.00" font-size="7" font-weight="bold" text-anchor="middle" fill="#000" >50</text>
<line x1="393.98" y1="414.10" x2="393.98" y2="417.80" stroke="#000" stroke-width="1.3" stroke-linecap="butt"/>
<text x="393.98" y="425.00" font-size="7" font-weight="bold" text-anchor="middle" fill="#000" >60</text>
<line x1="413.34" y1="414.10" x2="413.34" y2="417.80" stroke="#000" stroke-width="1.3" stroke-linecap="butt"/>
<text x="413.34" y="425.00" font-size="7" font-weight="bold" text-anchor="middle" fill="#000" >70</text>
<line x1="432.70" y1="414.10" x2="432.70" y2="417.80" stroke="#000" stroke-width="1.3" stroke-linecap="butt"/>
<text x="432.70" y="425.00" font-size="7" font-weight="bold" text-anchor="middle" fill="#000" >80</text>
<line x1="274.20" y1="309.30" x2="277.80" y2="309.30" stroke="#000" stroke-width="1.3" stroke-linecap="butt"/>
<text x="272.90" y="311.80" font-size="7.1" font-weight="bold" text-anchor="end" fill="#000" >50</text>
<line x1="274.20" y1="330.26" x2="277.80" y2="330.26" stroke="#000" stroke-width="1.3" stroke-linecap="butt"/>
<text x="272.90" y="332.76" font-size="7.1" font-weight="bold" text-anchor="end" fill="#000" >40</text>
<line x1="274.20" y1="351.22" x2="277.80" y2="351.22" stroke="#000" stroke-width="1.3" stroke-linecap="butt"/>
<text x="272.90" y="353.72" font-size="7.1" font-weight="bold" text-anchor="end" fill="#000" >30</text>
<line x1="274.20" y1="372.18" x2="277.80" y2="372.18" stroke="#000" stroke-width="1.3" stroke-linecap="butt"/>
<text x="272.90" y="374.68" font-size="7.1" font-weight="bold" text-anchor="end" fill="#000" >20</text>
<line x1="274.20" y1="393.14" x2="277.80" y2="393.14" stroke="#000" stroke-width="1.3" stroke-linecap="butt"/>
<text x="272.90" y="395.64" font-size="7.1" font-weight="bold" text-anchor="end" fill="#000" >10</text>
<line x1="274.20" y1="414.10" x2="277.80" y2="414.10" stroke="#000" stroke-width="1.3" stroke-linecap="butt"/>
<text x="272.90" y="416.60" font-size="7.1" font-weight="bold" text-anchor="end" fill="#000" >0</text>
<text x="355.25" y="437.10" font-size="8.4" font-weight="bold" text-anchor="middle" fill="#000" textLength="101.00" lengthAdjust="spacingAndGlyphs" >Hours post Immunization</text>
<g transform="translate(257.30,361.70) rotate(-90)">
<text x="-0.8" y="0" font-size="9.3" font-weight="bold" text-anchor="middle" fill="#000">% OVA<tspan font-size="6" dy="-4.6">+</tspan><tspan dy="4.6"> DC</tspan></text>
</g>
<polyline points="277.80,413.80 312.65,385.40 335.89,388.60 370.74,393.40 417.21,389.60" fill="none" stroke="#acacac" stroke-width="1.7" stroke-linejoin="miter" stroke-miterlimit="3"/>
<polygon points="312.65,383.00 315.05,385.40 312.65,387.80 310.25,385.40" fill="#acacac"/>
<polygon points="335.89,386.20 338.29,388.60 335.89,391.00 333.49,388.60" fill="#acacac"/>
<polygon points="370.74,391.00 373.14,393.40 370.74,395.80 368.34,393.40" fill="#acacac"/>
<polygon points="417.21,387.20 419.61,389.60 417.21,392.00 414.81,389.60" fill="#acacac"/>
<line x1="335.89" y1="387.00" x2="335.89" y2="394.00" stroke="#303030" stroke-width="1.0" stroke-linecap="butt"/>
<line x1="333.69" y1="387.00" x2="338.09" y2="387.00" stroke="#303030" stroke-width="1.0" stroke-linecap="butt"/>
<line x1="333.69" y1="394.00" x2="338.09" y2="394.00" stroke="#303030" stroke-width="1.0" stroke-linecap="butt"/>
<polyline points="277.80,413.80 312.65,381.50 335.89,391.50 370.74,385.40 417.21,390.70" fill="none" stroke="#303030" stroke-width="1.7" stroke-linejoin="miter" stroke-miterlimit="3"/>
<circle cx="312.65" cy="381.50" r="2.00" fill="#303030"/>
<circle cx="335.89" cy="391.50" r="2.00" fill="#303030"/>
<circle cx="370.74" cy="385.40" r="2.00" fill="#303030"/>
<circle cx="417.21" cy="390.70" r="2.00" fill="#303030"/>
<line x1="312.65" y1="374.60" x2="312.65" y2="381.00" stroke="#0a0a0a" stroke-width="1.0" stroke-linecap="butt"/>
<line x1="310.45" y1="374.60" x2="314.85" y2="374.60" stroke="#0a0a0a" stroke-width="1.0" stroke-linecap="butt"/>
<line x1="310.45" y1="381.00" x2="314.85" y2="381.00" stroke="#0a0a0a" stroke-width="1.0" stroke-linecap="butt"/>
<line x1="417.21" y1="386.40" x2="417.21" y2="394.40" stroke="#0a0a0a" stroke-width="1.0" stroke-linecap="butt"/>
<line x1="415.01" y1="386.40" x2="419.41" y2="386.40" stroke="#0a0a0a" stroke-width="1.0" stroke-linecap="butt"/>
<line x1="415.01" y1="394.40" x2="419.41" y2="394.40" stroke="#0a0a0a" stroke-width="1.0" stroke-linecap="butt"/>
<polyline points="277.80,413.80 312.65,380.80 335.89,379.50 370.74,389.60 417.21,390.30" fill="none" stroke="#0a0a0a" stroke-width="2.0" stroke-linejoin="miter" stroke-miterlimit="3"/>
<circle cx="312.65" cy="380.80" r="2.30" fill="#0a0a0a"/>
<circle cx="335.89" cy="379.50" r="2.30" fill="#0a0a0a"/>
<circle cx="370.74" cy="389.60" r="2.30" fill="#0a0a0a"/>
<circle cx="417.21" cy="390.30" r="2.30" fill="#0a0a0a"/>
<line x1="62.80" y1="461.20" x2="62.80" y2="567.10" stroke="#000" stroke-width="1.8" stroke-linecap="butt"/>
<line x1="61.90" y1="566.20" x2="218.30" y2="566.20" stroke="#000" stroke-width="1.8" stroke-linecap="butt"/>
<line x1="62.80" y1="566.20" x2="62.80" y2="569.90" stroke="#000" stroke-width="1.3" stroke-linecap="butt"/>
<text x="62.80" y="577.30" font-size="7" font-weight="bold" text-anchor="middle" fill="#000" >0</text>
<line x1="82.15" y1="566.20" x2="82.15" y2="569.90" stroke="#000" stroke-width="1.3" stroke-linecap="butt"/>
<text x="82.15" y="577.30" font-size="7" font-weight="bold" text-anchor="middle" fill="#000" >10</text>
<line x1="101.50" y1="566.20" x2="101.50" y2="569.90" stroke="#000" stroke-width="1.3" stroke-linecap="butt"/>
<text x="101.50" y="577.30" font-size="7" font-weight="bold" text-anchor="middle" fill="#000" >20</text>
<line x1="120.85" y1="566.20" x2="120.85" y2="569.90" stroke="#000" stroke-width="1.3" stroke-linecap="butt"/>
<text x="120.85" y="577.30" font-size="7" font-weight="bold" text-anchor="middle" fill="#000" >30</text>
<line x1="140.20" y1="566.20" x2="140.20" y2="569.90" stroke="#000" stroke-width="1.3" stroke-linecap="butt"/>
<text x="140.20" y="577.30" font-size="7" font-weight="bold" text-anchor="middle" fill="#000" >40</text>
<line x1="159.55" y1="566.20" x2="159.55" y2="569.90" stroke="#000" stroke-width="1.3" stroke-linecap="butt"/>
<text x="159.55" y="577.30" font-size="7" font-weight="bold" text-anchor="middle" fill="#000" >50</text>
<line x1="178.90" y1="566.20" x2="178.90" y2="569.90" stroke="#000" stroke-width="1.3" stroke-linecap="butt"/>
<text x="178.90" y="577.30" font-size="7" font-weight="bold" text-anchor="middle" fill="#000" >60</text>
<line x1="198.25" y1="566.20" x2="198.25" y2="569.90" stroke="#000" stroke-width="1.3" stroke-linecap="butt"/>
<text x="198.25" y="577.30" font-size="7" font-weight="bold" text-anchor="middle" fill="#000" >70</text>
<line x1="217.60" y1="566.20" x2="217.60" y2="569.90" stroke="#000" stroke-width="1.3" stroke-linecap="butt"/>
<text x="217.60" y="577.30" font-size="7" font-weight="bold" text-anchor="middle" fill="#000" >80</text>
<line x1="59.20" y1="461.80" x2="62.80" y2="461.80" stroke="#000" stroke-width="1.3" stroke-linecap="butt"/>
<text x="57.90" y="464.30" font-size="7.1" font-weight="bold" text-anchor="end" fill="#000" >50</text>
<line x1="59.20" y1="482.68" x2="62.80" y2="482.68" stroke="#000" stroke-width="1.3" stroke-linecap="butt"/>
<text x="57.90" y="485.18" font-size="7.1" font-weight="bold" text-anchor="end" fill="#000" >40</text>
<line x1="59.20" y1="503.56" x2="62.80" y2="503.56" stroke="#000" stroke-width="1.3" stroke-linecap="butt"/>
<text x="57.90" y="506.06" font-size="7.1" font-weight="bold" text-anchor="end" fill="#000" >30</text>
<line x1="59.20" y1="524.44" x2="62.80" y2="524.44" stroke="#000" stroke-width="1.3" stroke-linecap="butt"/>
<text x="57.90" y="526.94" font-size="7.1" font-weight="bold" text-anchor="end" fill="#000" >20</text>
<line x1="59.20" y1="545.32" x2="62.80" y2="545.32" stroke="#000" stroke-width="1.3" stroke-linecap="butt"/>
<text x="57.90" y="547.82" font-size="7.1" font-weight="bold" text-anchor="end" fill="#000" >10</text>
<line x1="59.20" y1="566.20" x2="62.80" y2="566.20" stroke="#000" stroke-width="1.3" stroke-linecap="butt"/>
<text x="57.90" y="568.70" font-size="7.1" font-weight="bold" text-anchor="end" fill="#000" >0</text>
<text x="140.20" y="589.30" font-size="8.4" font-weight="bold" text-anchor="middle" fill="#000" textLength="100.60" lengthAdjust="spacingAndGlyphs" >Hours post Immunization</text>
<g transform="translate(41.20,514.00) rotate(-90)">
<text x="-0.8" y="0" font-size="9.3" font-weight="bold" text-anchor="middle" fill="#000">% OVA<tspan font-size="6" dy="-4.6">+</tspan><tspan dy="4.6"> DC</tspan></text>
</g>
<line x1="97.63" y1="488.00" x2="97.63" y2="505.70" stroke="#acacac" stroke-width="1.0" stroke-linecap="butt"/>
<line x1="95.43" y1="488.00" x2="99.83" y2="488.00" stroke="#acacac" stroke-width="1.0" stroke-linecap="butt"/>
<line x1="95.43" y1="505.70" x2="99.83" y2="505.70" stroke="#acacac" stroke-width="1.0" stroke-linecap="butt"/>
<line x1="155.68" y1="530.50" x2="155.68" y2="536.00" stroke="#acacac" stroke-width="1.0" stroke-linecap="butt"/>
<line x1="153.48" y1="530.50" x2="157.88" y2="530.50" stroke="#acacac" stroke-width="1.0" stroke-linecap="butt"/>
<line x1="153.48" y1="536.00" x2="157.88" y2="536.00" stroke="#acacac" stroke-width="1.0" stroke-linecap="butt"/>
<polyline points="62.80,566.30 97.63,496.00 120.85,514.20 155.68,533.50 202.12,545.10" fill="none" stroke="#acacac" stroke-width="1.7" stroke-linejoin="miter" stroke-miterlimit="3"/>
<polygon points="97.63,493.60 100.03,496.00 97.63,498.40 95.23,496.00" fill="#acacac"/>
<polygon points="120.85,511.80 123.25,514.20 120.85,516.60 118.45,514.20" fill="#acacac"/>
<polygon points="155.68,531.10 158.08,533.50 155.68,535.90 153.28,533.50" fill="#acacac"/>
<polygon points="202.12,542.70 204.52,545.10 202.12,547.50 199.72,545.10" fill="#acacac"/>
<line x1="97.63" y1="488.00" x2="97.63" y2="496.00" stroke="#303030" stroke-width="1.0" stroke-linecap="butt"/>
<line x1="95.43" y1="488.00" x2="99.83" y2="488.00" stroke="#303030" stroke-width="1.0" stroke-linecap="butt"/>
<line x1="95.43" y1="496.00" x2="99.83" y2="496.00" stroke="#303030" stroke-width="1.0" stroke-linecap="butt"/>
<line x1="120.85" y1="487.90" x2="120.85" y2="502.00" stroke="#303030" stroke-width="1.0" stroke-linecap="butt"/>
<line x1="118.65" y1="487.90" x2="123.05" y2="487.90" stroke="#303030" stroke-width="1.0" stroke-linecap="butt"/>
<line x1="118.65" y1="502.00" x2="123.05" y2="502.00" stroke="#303030" stroke-width="1.0" stroke-linecap="butt"/>
<line x1="202.12" y1="528.20" x2="202.12" y2="538.10" stroke="#303030" stroke-width="1.0" stroke-linecap="butt"/>
<line x1="199.92" y1="528.20" x2="204.32" y2="528.20" stroke="#303030" stroke-width="1.0" stroke-linecap="butt"/>
<line x1="199.92" y1="538.10" x2="204.32" y2="538.10" stroke="#303030" stroke-width="1.0" stroke-linecap="butt"/>
<polyline points="62.80,566.30 97.63,491.80 120.85,495.00 155.68,532.40 202.12,533.00" fill="none" stroke="#303030" stroke-width="1.7" stroke-linejoin="miter" stroke-miterlimit="3"/>
<circle cx="97.63" cy="491.80" r="2.00" fill="#303030"/>
<circle cx="120.85" cy="495.00" r="2.00" fill="#303030"/>
<circle cx="155.68" cy="532.40" r="2.00" fill="#303030"/>
<circle cx="202.12" cy="533.00" r="2.00" fill="#303030"/>
<line x1="97.63" y1="471.50" x2="97.63" y2="490.00" stroke="#0a0a0a" stroke-width="1.0" stroke-linecap="butt"/>
<line x1="95.43" y1="471.50" x2="99.83" y2="471.50" stroke="#0a0a0a" stroke-width="1.0" stroke-linecap="butt"/>
<line x1="95.43" y1="490.00" x2="99.83" y2="490.00" stroke="#0a0a0a" stroke-width="1.0" stroke-linecap="butt"/>
<line x1="120.85" y1="479.80" x2="120.85" y2="486.50" stroke="#0a0a0a" stroke-width="1.0" stroke-linecap="butt"/>
<line x1="118.65" y1="479.80" x2="123.05" y2="479.80" stroke="#0a0a0a" stroke-width="1.0" stroke-linecap="butt"/>
<line x1="118.65" y1="486.50" x2="123.05" y2="486.50" stroke="#0a0a0a" stroke-width="1.0" stroke-linecap="butt"/>
<line x1="155.68" y1="516.50" x2="155.68" y2="521.80" stroke="#0a0a0a" stroke-width="1.0" stroke-linecap="butt"/>
<line x1="153.48" y1="516.50" x2="157.88" y2="516.50" stroke="#0a0a0a" stroke-width="1.0" stroke-linecap="butt"/>
<line x1="153.48" y1="521.80" x2="157.88" y2="521.80" stroke="#0a0a0a" stroke-width="1.0" stroke-linecap="butt"/>
<line x1="202.12" y1="529.50" x2="202.12" y2="535.50" stroke="#0a0a0a" stroke-width="1.0" stroke-linecap="butt"/>
<line x1="199.92" y1="529.50" x2="204.32" y2="529.50" stroke="#0a0a0a" stroke-width="1.0" stroke-linecap="butt"/>
<line x1="199.92" y1="535.50" x2="204.32" y2="535.50" stroke="#0a0a0a" stroke-width="1.0" stroke-linecap="butt"/>
<polyline points="62.80,566.30 97.63,480.70 120.85,483.10 155.68,519.10 202.12,532.40" fill="none" stroke="#0a0a0a" stroke-width="2.0" stroke-linejoin="miter" stroke-miterlimit="3"/>
<circle cx="97.63" cy="480.70" r="2.30" fill="#0a0a0a"/>
<circle cx="120.85" cy="483.10" r="2.30" fill="#0a0a0a"/>
<circle cx="155.68" cy="519.10" r="2.30" fill="#0a0a0a"/>
<circle cx="202.12" cy="532.40" r="2.30" fill="#0a0a0a"/>
<line x1="279.00" y1="461.20" x2="279.00" y2="567.10" stroke="#000" stroke-width="1.8" stroke-linecap="butt"/>
<line x1="278.10" y1="566.20" x2="434.60" y2="566.20" stroke="#000" stroke-width="1.8" stroke-linecap="butt"/>
<line x1="279.00" y1="566.20" x2="279.00" y2="569.90" stroke="#000" stroke-width="1.3" stroke-linecap="butt"/>
<text x="279.00" y="577.30" font-size="7" font-weight="bold" text-anchor="middle" fill="#000" >0</text>
<line x1="298.36" y1="566.20" x2="298.36" y2="569.90" stroke="#000" stroke-width="1.3" stroke-linecap="butt"/>
<text x="298.36" y="577.30" font-size="7" font-weight="bold" text-anchor="middle" fill="#000" >10</text>
<line x1="317.73" y1="566.20" x2="317.73" y2="569.90" stroke="#000" stroke-width="1.3" stroke-linecap="butt"/>
<text x="317.73" y="577.30" font-size="7" font-weight="bold" text-anchor="middle" fill="#000" >20</text>
<line x1="337.09" y1="566.20" x2="337.09" y2="569.90" stroke="#000" stroke-width="1.3" stroke-linecap="butt"/>
<text x="337.09" y="577.30" font-size="7" font-weight="bold" text-anchor="middle" fill="#000" >30</text>
<line x1="356.45" y1="566.20" x2="356.45" y2="569.90" stroke="#000" stroke-width="1.3" stroke-linecap="butt"/>
<text x="356.45" y="577.30" font-size="7" font-weight="bold" text-anchor="middle" fill="#000" >40</text>
<line x1="375.81" y1="566.20" x2="375.81" y2="569.90" stroke="#000" stroke-width="1.3" stroke-linecap="butt"/>
<text x="375.81" y="577.30" font-size="7" font-weight="bold" text-anchor="middle" fill="#000" >50</text>
<line x1="395.17" y1="566.20" x2="395.17" y2="569.90" stroke="#000" stroke-width="1.3" stroke-linecap="butt"/>
<text x="395.17" y="577.30" font-size="7" font-weight="bold" text-anchor="middle" fill="#000" >60</text>
<line x1="414.54" y1="566.20" x2="414.54" y2="569.90" stroke="#000" stroke-width="1.3" stroke-linecap="butt"/>
<text x="414.54" y="577.30" font-size="7" font-weight="bold" text-anchor="middle" fill="#000" >70</text>
<line x1="433.90" y1="566.20" x2="433.90" y2="569.90" stroke="#000" stroke-width="1.3" stroke-linecap="butt"/>
<text x="433.90" y="577.30" font-size="7" font-weight="bold" text-anchor="middle" fill="#000" >80</text>
<line x1="275.40" y1="461.80" x2="279.00" y2="461.80" stroke="#000" stroke-width="1.3" stroke-linecap="butt"/>
<text x="274.10" y="464.30" font-size="7.1" font-weight="bold" text-anchor="end" fill="#000" >50</text>
<line x1="275.40" y1="482.68" x2="279.00" y2="482.68" stroke="#000" stroke-width="1.3" stroke-linecap="butt"/>
<text x="274.10" y="485.18" font-size="7.1" font-weight="bold" text-anchor="end" fill="#000" >40</text>
<line x1="275.40" y1="503.56" x2="279.00" y2="503.56" stroke="#000" stroke-width="1.3" stroke-linecap="butt"/>
<text x="274.10" y="506.06" font-size="7.1" font-weight="bold" text-anchor="end" fill="#000" >30</text>
<line x1="275.40" y1="524.44" x2="279.00" y2="524.44" stroke="#000" stroke-width="1.3" stroke-linecap="butt"/>
<text x="274.10" y="526.94" font-size="7.1" font-weight="bold" text-anchor="end" fill="#000" >20</text>
<line x1="275.40" y1="545.32" x2="279.00" y2="545.32" stroke="#000" stroke-width="1.3" stroke-linecap="butt"/>
<text x="274.10" y="547.82" font-size="7.1" font-weight="bold" text-anchor="end" fill="#000" >10</text>
<line x1="275.40" y1="566.20" x2="279.00" y2="566.20" stroke="#000" stroke-width="1.3" stroke-linecap="butt"/>
<text x="274.10" y="568.70" font-size="7.1" font-weight="bold" text-anchor="end" fill="#000" >0</text>
<text x="356.45" y="589.30" font-size="8.4" font-weight="bold" text-anchor="middle" fill="#000" textLength="100.60" lengthAdjust="spacingAndGlyphs" >Hours post Immunization</text>
<g transform="translate(256.80,514.00) rotate(-90)">
<text x="-0.8" y="0" font-size="9.3" font-weight="bold" text-anchor="middle" fill="#000">% OVA<tspan font-size="6" dy="-4.6">+</tspan><tspan dy="4.6"> DC</tspan></text>
</g>
<line x1="313.85" y1="513.00" x2="313.85" y2="526.30" stroke="#acacac" stroke-width="1.0" stroke-linecap="butt"/>
<line x1="311.65" y1="513.00" x2="316.05" y2="513.00" stroke="#acacac" stroke-width="1.0" stroke-linecap="butt"/>
<line x1="311.65" y1="526.30" x2="316.05" y2="526.30" stroke="#acacac" stroke-width="1.0" stroke-linecap="butt"/>
<line x1="371.94" y1="518.60" x2="371.94" y2="527.00" stroke="#acacac" stroke-width="1.0" stroke-linecap="butt"/>
<line x1="369.74" y1="518.60" x2="374.14" y2="518.60" stroke="#acacac" stroke-width="1.0" stroke-linecap="butt"/>
<line x1="369.74" y1="527.00" x2="374.14" y2="527.00" stroke="#acacac" stroke-width="1.0" stroke-linecap="butt"/>
<line x1="418.41" y1="535.50" x2="418.41" y2="542.90" stroke="#acacac" stroke-width="1.0" stroke-linecap="butt"/>
<line x1="416.21" y1="535.50" x2="420.61" y2="535.50" stroke="#acacac" stroke-width="1.0" stroke-linecap="butt"/>
<line x1="416.21" y1="542.90" x2="420.61" y2="542.90" stroke="#acacac" stroke-width="1.0" stroke-linecap="butt"/>
<polyline points="279.00,566.20 313.85,520.30 337.09,525.50 371.94,522.80 418.41,539.70" fill="none" stroke="#acacac" stroke-width="1.7" stroke-linejoin="miter" stroke-miterlimit="3"/>
<polygon points="313.85,517.90 316.25,520.30 313.85,522.70 311.45,520.30" fill="#acacac"/>
<polygon points="337.09,523.10 339.49,525.50 337.09,527.90 334.69,525.50" fill="#acacac"/>
<polygon points="371.94,520.40 374.34,522.80 371.94,525.20 369.54,522.80" fill="#acacac"/>
<polygon points="418.41,537.30 420.81,539.70 418.41,542.10 416.01,539.70" fill="#acacac"/>
<polyline points="279.00,566.20 313.85,515.10 337.09,525.00 371.94,529.80 418.41,546.10" fill="none" stroke="#303030" stroke-width="1.7" stroke-linejoin="miter" stroke-miterlimit="3"/>
<circle cx="313.85" cy="515.10" r="2.00" fill="#303030"/>
<circle cx="337.09" cy="525.00" r="2.00" fill="#303030"/>
<circle cx="371.94" cy="529.80" r="2.00" fill="#303030"/>
<circle cx="418.41" cy="546.10" r="2.00" fill="#303030"/>
<line x1="313.85" y1="500.00" x2="313.85" y2="510.00" stroke="#0a0a0a" stroke-width="1.0" stroke-linecap="butt"/>
<line x1="311.65" y1="500.00" x2="316.05" y2="500.00" stroke="#0a0a0a" stroke-width="1.0" stroke-linecap="butt"/>
<line x1="311.65" y1="510.00" x2="316.05" y2="510.00" stroke="#0a0a0a" stroke-width="1.0" stroke-linecap="butt"/>
<line x1="337.09" y1="512.00" x2="337.09" y2="524.00" stroke="#0a0a0a" stroke-width="1.0" stroke-linecap="butt"/>
<line x1="334.89" y1="512.00" x2="339.29" y2="512.00" stroke="#0a0a0a" stroke-width="1.0" stroke-linecap="butt"/>
<line x1="334.89" y1="524.00" x2="339.29" y2="524.00" stroke="#0a0a0a" stroke-width="1.0" stroke-linecap="butt"/>
<polyline points="279.00,566.20 313.85,505.20 337.09,517.80 371.94,536.50 418.41,539.30" fill="none" stroke="#0a0a0a" stroke-width="2.0" stroke-linejoin="miter" stroke-miterlimit="3"/>
<circle cx="313.85" cy="505.20" r="2.30" fill="#0a0a0a"/>
<circle cx="337.09" cy="517.80" r="2.30" fill="#0a0a0a"/>
<circle cx="371.94" cy="536.50" r="2.30" fill="#0a0a0a"/>
<circle cx="418.41" cy="539.30" r="2.30" fill="#0a0a0a"/>
<text x="315.90" y="40.10" font-size="11.5" font-weight="bold" text-anchor="middle" fill="#000" textLength="14.40" lengthAdjust="spacingAndGlyphs" style="stroke:none">***</text>
<text x="338.65" y="33.10" font-size="11.5" font-weight="bold" text-anchor="middle" fill="#000" textLength="15.30" lengthAdjust="spacingAndGlyphs" style="stroke:none">***</text>
<text x="373.10" y="36.10" font-size="11.5" font-weight="bold" text-anchor="middle" fill="#000" textLength="15.20" lengthAdjust="spacingAndGlyphs" style="stroke:none">***</text>
<text x="102.00" y="185.50" font-size="11.5" font-weight="bold" text-anchor="middle" fill="#000" textLength="5.60" lengthAdjust="spacingAndGlyphs" style="stroke:none">*</text>
<text x="315.30" y="187.90" font-size="11.5" font-weight="bold" text-anchor="middle" fill="#000" textLength="10.00" lengthAdjust="spacingAndGlyphs" style="stroke:none">**</text>
<text x="339.00" y="185.10" font-size="11.5" font-weight="bold" text-anchor="middle" fill="#000" textLength="10.60" lengthAdjust="spacingAndGlyphs" style="stroke:none">**</text>
<text x="373.35" y="187.70" font-size="11.5" font-weight="bold" text-anchor="middle" fill="#000" textLength="10.50" lengthAdjust="spacingAndGlyphs" style="stroke:none">**</text>
<text x="338.80" y="379.10" font-size="11.5" font-weight="bold" text-anchor="middle" fill="#000" textLength="5.60" lengthAdjust="spacingAndGlyphs" style="stroke:none">*</text>
<text x="126.05" y="482.80" font-size="11.5" font-weight="bold" text-anchor="middle" fill="#000" textLength="10.30" lengthAdjust="spacingAndGlyphs" style="stroke:none">**</text>
<text x="159.70" y="518.00" font-size="11.5" font-weight="bold" text-anchor="middle" fill="#000" textLength="5.60" lengthAdjust="spacingAndGlyphs" style="stroke:none">*</text>
<text x="147.20" y="107.00" font-size="11.2" font-weight="bold" text-anchor="start" fill="#000" textLength="57.60" lengthAdjust="spacingAndGlyphs" >Dermal DC</text>
<text x="401.70" y="107.60" font-size="11.6" font-weight="bold" text-anchor="start" fill="#000" textLength="11.90" lengthAdjust="spacingAndGlyphs" >LC</text>
<text x="147.00" y="255.00" font-size="11.2" font-weight="bold" text-anchor="start" fill="#000" textLength="57.00" lengthAdjust="spacingAndGlyphs" >CD11b<tspan font-size="7" dy="-4">+</tspan><tspan dy="4"> DC</tspan></text>
<text x="366.50" y="256.70" font-size="11.2" font-weight="bold" text-anchor="start" fill="#000" textLength="52.90" lengthAdjust="spacingAndGlyphs" >CD8<tspan font-family="Liberation Serif" font-weight="normal">α</tspan><tspan font-size="7" dy="-4">+</tspan><tspan dy="4"> DC</tspan></text>
<text x="149.30" y="411.90" font-size="12.6" font-weight="bold" text-anchor="start" fill="#000" textLength="66.30" lengthAdjust="spacingAndGlyphs" style="stroke-width:0.08px">Dermal DC</text>
<text x="406.20" y="412.90" font-size="12.6" font-weight="bold" text-anchor="start" fill="#000" textLength="15.60" lengthAdjust="spacingAndGlyphs" style="stroke-width:0.08px">LC</text>
<text x="149.30" y="563.80" font-size="12.6" font-weight="bold" text-anchor="start" fill="#000" textLength="68.30" lengthAdjust="spacingAndGlyphs" style="stroke-width:0.08px">CD11b<tspan font-size="8" dy="-4.5">+</tspan><tspan dy="4.5"> DC</tspan></text>
<text x="370.20" y="564.00" font-size="12.6" font-weight="bold" text-anchor="start" fill="#000" textLength="61.80" lengthAdjust="spacingAndGlyphs" style="stroke-width:0.08px">CD8<tspan font-family="Liberation Serif" font-weight="normal">α</tspan><tspan font-size="8" dy="-4.5">+</tspan><tspan dy="4.5"> DC</tspan></text>
<text x="1.60" y="17.90" font-size="14.6" font-weight="bold" text-anchor="start" fill="#000" >A</text>
<text x="2.00" y="315.20" font-size="14.0" font-weight="bold" text-anchor="start" fill="#000" >B</text>
<line x1="440.00" y1="13.90" x2="455.40" y2="13.90" stroke="#0a0a0a" stroke-width="2.1" stroke-linecap="butt"/>
<rect x="445.80" y="12.00" width="3.80" height="3.80" fill="#0a0a0a"/>
<text x="457.50" y="17.90" font-size="8.4" font-weight="normal" text-anchor="start" fill="#000" textLength="37.50" lengthAdjust="spacingAndGlyphs" >IFN-αβR<tspan font-size="5" dy="-3.5">-/-</tspan></text>
<line x1="440.00" y1="25.70" x2="455.40" y2="25.70" stroke="#303030" stroke-width="1.7" stroke-linecap="butt"/>
<polygon points="447.70,23.30 449.90,27.30 445.50,27.30" fill="#303030"/>
<text x="457.50" y="29.50" font-size="8.4" font-weight="normal" text-anchor="start" fill="#000" textLength="55.90" lengthAdjust="spacingAndGlyphs" >IL-12 Blockade</text>
<line x1="440.00" y1="38.10" x2="455.40" y2="38.10" stroke="#acacac" stroke-width="1.7" stroke-linecap="butt"/>
<polygon points="447.70,40.50 449.90,36.50 445.50,36.50" fill="#acacac"/>
<text x="457.50" y="41.10" font-size="8.4" font-weight="normal" text-anchor="start" fill="#000" textLength="10.50" lengthAdjust="spacingAndGlyphs" >B6</text>
<line x1="443.30" y1="317.10" x2="458.60" y2="317.10" stroke="#0a0a0a" stroke-width="2.1" stroke-linecap="butt"/>
<circle cx="450.95" cy="317.10" r="1.90" fill="#0a0a0a"/>
<text x="460.30" y="321.60" font-size="8.4" font-weight="normal" text-anchor="start" fill="#000" textLength="37.50" lengthAdjust="spacingAndGlyphs" >IFN-αβR<tspan font-size="5" dy="-3.5">-/-</tspan></text>
<line x1="443.30" y1="329.20" x2="458.60" y2="329.20" stroke="#303030" stroke-width="1.7" stroke-linecap="butt"/>
<circle cx="450.95" cy="329.20" r="1.90" fill="#303030"/>
<text x="460.30" y="332.90" font-size="8.4" font-weight="normal" text-anchor="start" fill="#000" textLength="56.40" lengthAdjust="spacingAndGlyphs" >IL-12 Blockade</text>
<line x1="443.30" y1="341.80" x2="458.60" y2="341.80" stroke="#acacac" stroke-width="1.7" stroke-linecap="butt"/>
<polygon points="450.95,339.50 453.25,341.80 450.95,344.10 448.65,341.80" fill="#acacac"/>
<text x="460.30" y="344.70" font-size="8.4" font-weight="normal" text-anchor="start" fill="#000" textLength="10.50" lengthAdjust="spacingAndGlyphs" >B6</text>
</svg>
</body></html>
